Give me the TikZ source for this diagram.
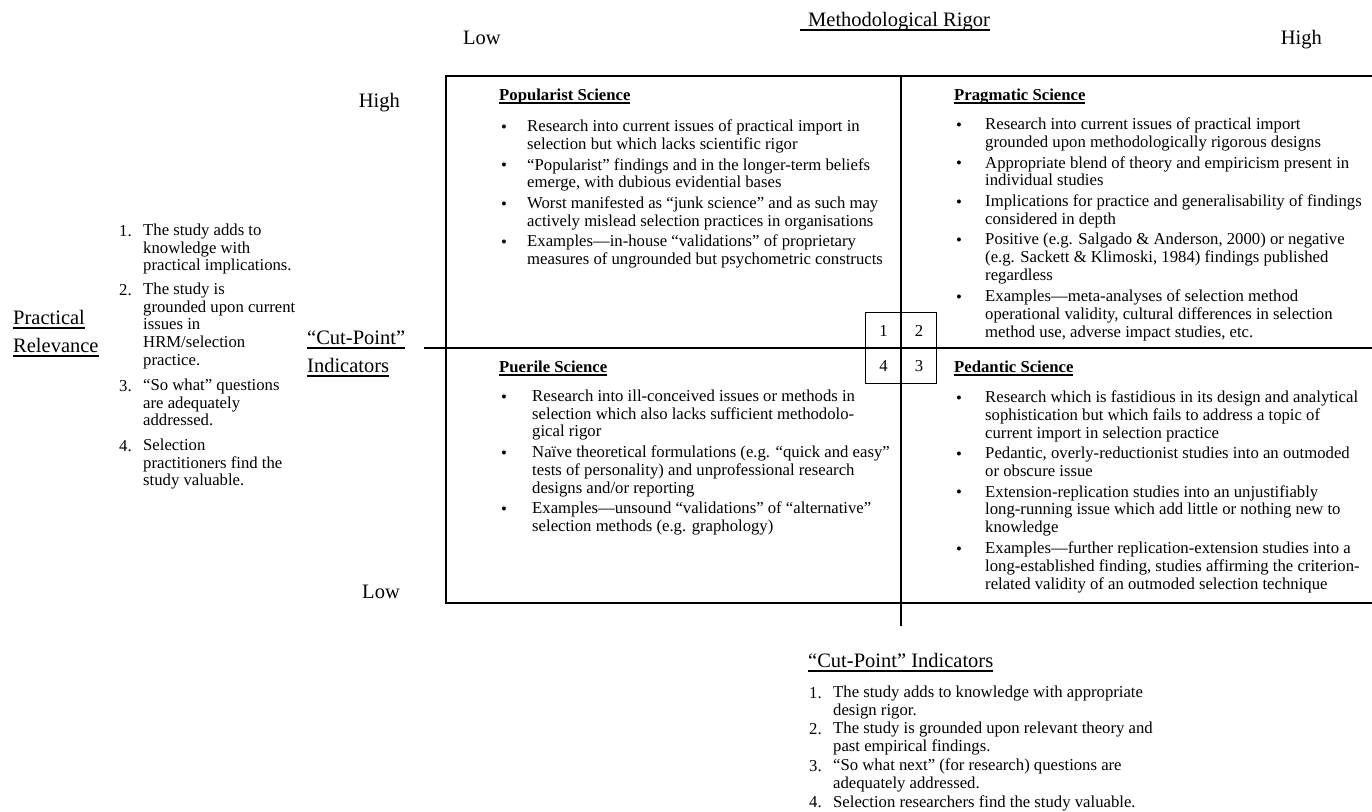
\documentclass[tikz,border=0pt]{standalone}
\usepackage{fontspec}
\setmainfont{Liberation Serif}
\usepackage{tikz}

\newsavebox{\ulbox}
\newcommand{\ulin}[3]{\sbox{\ulbox}{#3}\rlap{\rule[-#1]{\wd\ulbox}{#2}}\usebox{\ulbox}}
\newcommand{\bigul}[1]{\ulin{5pt}{1.8pt}{#1}}
\newcommand{\hd}[1]{\ulin{3.6pt}{1.5pt}{\bfseries #1}}

\tikzset{
  itemtext/.style={font=\fontsize{16.7}{17.8}\selectfont, align=left, anchor=north west,
    yshift=12.46pt, inner sep=0pt, execute at begin node=\strut},
  axislabel/.style={font=\fontsize{20.5}{28}\selectfont, align=left, anchor=base west, inner sep=0pt},
  axis/.style={line width=1.8pt},
  cell/.style={draw, line width=1.2pt, minimum size=35.5pt, inner sep=0pt, font=\fontsize{16.7}{17.8}\selectfont}
}

\begin{document}
\begin{tikzpicture}[x=1pt,y=-1pt]

      \useasboundingbox (0,0) rectangle (1372,811);

      % frame and axes
      \coordinate (tl) at (446,76);
      \coordinate (tr) at (1372,76);
      \coordinate (bl) at (446,603);
      \coordinate (br) at (1372,603);
      \coordinate (vt) at (901,76);
      \coordinate (vb) at (901,626);
      \coordinate (hl) at (424,348);
      \coordinate (hr) at (1372,348);

      \draw[axis] (tr) -- (tl) -- (bl) -- (br);
      \draw[axis] (vt) -- (vb);
      \draw[axis] (hl) -- (hr);

      \begin{scope}[every node/.style={cell}]
        \node (c1) at (883.5,330.5) {1};
        \node (c2) at (919,330.5) {2};
        \node (c4) at (883.5,366) {4};
        \node (c3) at (919,366) {3};
      \end{scope}

      % axis labels
      \begin{scope}[every node/.style={axislabel}]
        \node (rigor) at (800,26) {\bigul{\hspace*{8pt}Methodological Rigor}};
        \node (xlow) at (463,44) {Low};
        \node[anchor=base east] (xhigh) at (1322,44) {High};
        \node[anchor=base east] (yhigh) at (400,107) {High};
        \node[anchor=base east] (ylow) at (400,598) {Low};
        \node (prac1) at (13,324) {\bigul{Practical}};
        \node (prac2) at (13,352) {\bigul{Relevance}};
        \node (cutl1) at (307,344) {\bigul{“Cut-Point”}};
        \node (cutl2) at (307,372) {\bigul{Indicators}};
        \node (cutb) at (808,667) {\bigul{“Cut-Point” Indicators}};
      \end{scope}

      \begin{scope}[every node/.style={itemtext}]

        % left indicators
        \node (l1n) at (119,236) {1.};
        \node (l1) at (143,236) {The study adds to\\knowledge with\\practical implications.};
        \node (l2n) at (119,295) {2.};
        \node (l2) at (143,295) {The study is\\grounded upon current\\issues in\\HRM/selection\\practice.};
        \node (l3n) at (119,391) {3.};
        \node (l3) at (143,391) {“So what” questions\\are adequately\\addressed.};
        \node (l4n) at (119,451) {4.};
        \node (l4) at (143,451) {Selection\\practitioners find the\\study valuable.};

        % popularist
        \node (pop) at (499,100) {\hd{Popularist Science}};
        \node (pop1b) at (501,132) {•};
        \node (pop1) at (527,132) {Research into current issues of practical import in\\selection but which lacks scientific rigor};
        \node (pop2b) at (501,170.5) {•};
        \node (pop2) at (527,170.5) {“Popularist” findings and in the longer-term beliefs\\emerge, with dubious evidential bases};
        \node (pop3b) at (501,209) {•};
        \node (pop3) at (527,209) {Worst manifested as “junk science” and as such may\\actively mislead selection practices in organisations};
        \node (pop4b) at (501,247) {•};
        \node (pop4) at (527,247) {Examples—in-house “validations” of proprietary\\measures of ungrounded but psychometric constructs};

        % pragmatic
        \node (prag) at (954,100) {\hd{Pragmatic Science}};
        \node (prag1b) at (956,130) {•};
        \node (prag1) at (985,130) {Research into current issues of practical import\\grounded upon methodologically rigorous designs};
        \node (prag2b) at (956,168.5) {•};
        \node (prag2) at (985,168.5) {Appropriate blend of theory and empiricism present in\\individual studies};
        \node (prag3b) at (956,207) {•};
        \node (prag3) at (985,207) {Implications for practice and generalisability of findings\\considered in depth};
        \node (prag4b) at (956,245.5) {•};
        \node (prag4) at (985,245.5) {Positive (e.g. Salgado \& Anderson, 2000) or negative\\(e.g. Sackett \& Klimoski, 1984) findings published\\regardless};
        \node (prag5b) at (956,302) {•};
        \node (prag5) at (985,302) {Examples—meta-analyses of selection method\\operational validity, cultural differences in selection\\method use, adverse impact studies, etc.};

        % puerile
        \node (pue) at (499,372) {\hd{Puerile Science}};
        \node (pue1b) at (501,402) {•};
        \node (pue1) at (532,402) {Research into ill-conceived issues or methods in\\selection which also lacks sufficient methodolo-\\gical rigor};
        \node (pue2b) at (501,458) {•};
        \node (pue2) at (532,458) {Naïve theoretical formulations (e.g. “quick and easy”\\tests of personality) and unprofessional research\\designs and/or reporting};
        \node (pue3b) at (501,514) {•};
        \node (pue3) at (532,514) {Examples—unsound “validations” of “alternative”\\selection methods (e.g. graphology)};

        % pedantic
        \node (ped) at (954,372) {\hd{Pedantic Science}};
        \node (ped1b) at (956,403) {•};
        \node (ped1) at (985,403) {Research which is fastidious in its design and analytical\\sophistication but which fails to address a topic of\\current import in selection practice};
        \node (ped2b) at (956,459) {•};
        \node (ped2) at (985,459) {Pedantic, overly-reductionist studies into an outmoded\\or obscure issue};
        \node (ped3b) at (956,497.5) {•};
        \node (ped3) at (985,497.5) {Extension-replication studies into an unjustifiably\\long-running issue which add little or nothing new to\\knowledge};
        \node (ped4b) at (956,554) {•};
        \node (ped4) at (985,554) {Examples—further replication-extension studies into a\\long-established finding, studies affirming the criterion-\\related validity of an outmoded selection technique};

        % bottom indicators
        \node (b1n) at (809,698) {1.};
        \node (b1) at (833,698) {The study adds to knowledge with appropriate\\design rigor.};
        \node (b2n) at (809,734) {2.};
        \node (b2) at (833,734) {The study is grounded upon relevant theory and\\past empirical findings.};
        \node (b3n) at (809,771) {3.};
        \node (b3) at (833,771) {“So what next” (for research) questions are\\adequately addressed.};
        \node (b4n) at (809,807) {4.};
        \node (b4) at (833,807) {Selection researchers find the study valuable.};

      \end{scope}

\end{tikzpicture}
\end{document}
